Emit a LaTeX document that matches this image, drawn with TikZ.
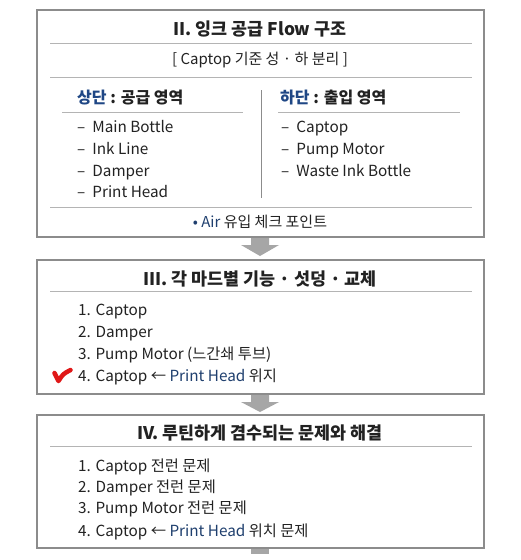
\documentclass[tikz,border=0pt]{standalone}
\usepackage{fontspec}
\setmainfont{Noto Sans CJK KR}
\definecolor{boxline}{HTML}{8C8C8C}
\definecolor{rule}{HTML}{B4B4B4}
\definecolor{txt}{HTML}{222222}
\definecolor{hdblue}{HTML}{1F4785}
\definecolor{navy}{HTML}{1F3F6E}
\definecolor{arrowgray}{HTML}{A6A6A6}
\definecolor{checkred}{HTML}{E01818}
\tikzset{
  panel/.style={draw=boxline, line width=1.1pt, fill=white},
  sep/.style={draw=rule, line width=0.9pt},
  title/.style={font=\fontsize{17.4}{20}\selectfont\bfseries, text=txt, inner sep=0pt, anchor=base},
  item/.style={font=\fontsize{15.3}{18}\selectfont, text=txt, anchor=base west, inner sep=0pt},
  sub/.style={font=\fontsize{15}{18}\selectfont, text=txt, inner sep=0pt, anchor=base},
  head/.style={font=\fontsize{16}{18}\selectfont\bfseries, text=txt, anchor=base west, inner sep=0pt},
  flowarrow/.style={fill=arrowgray, draw=none},
}
\newcommand{\dashitem}[1]{–\hspace{7pt}#1}
\begin{document}
\begin{tikzpicture}[x=1pt,y=-1pt]
\useasboundingbox (0,0) rectangle (520,560);
\fill[white] (0,0) rectangle (520,560);

% ---------- Box II ----------
\draw[panel] (37,10) rectangle (484,237);
\node[title] (t2) at (260,35) {II. 잉크 공급 Flow 구조};
\draw[sep] (50,43) -- (472,43);
\node[sub] (s2) at (260,64) {[ Captop 기준 성 · 하 분리 ]};
\draw[sep] (50,77) -- (472,77);
\node[head] (up) at (77,103) {\textcolor{hdblue}{상단} : 공급 영역};
\node[head] (down) at (280,103) {\textcolor{hdblue}{하단} : 출입 영역};
\draw[sep] (62,112) -- (243,112);
\draw[sep] (278,112) -- (460,112);
\draw[draw=boxline, line width=0.8pt] (261,90) -- (261,198);
\node[item] (l1) at (77,132) {\dashitem{Main Bottle}};
\node[item] (l2) at (77,154) {\dashitem{Ink Line}};
\node[item] (l3) at (77,176) {\dashitem{Damper}};
\node[item] (l4) at (77,197.5) {\dashitem{Print Head}};
\node[item] (r1) at (281,132) {\dashitem{Captop}};
\node[item] (r2) at (281,154) {\dashitem{Pump Motor}};
\node[item] (r3) at (281,176) {\dashitem{Waste Ink Bottle}};
\draw[sep] (50,207) -- (472,207);
\node[sub] (air) at (260,227) {\textcolor{navy}{\textbullet\ Air} 유입 체크 포인트};

% ---------- arrow 1 ----------
\fill[flowarrow] (251,238) -- (269,238) -- (269,245) -- (279,245) -- (260,256) -- (241,245) -- (251,245) -- cycle;

% ---------- Box III ----------
\draw[panel] (37,260) rectangle (484,394);
\node[title] (t3) at (260,285) {III. 각 마드별 기능 · 섯덩 · 교체};
\draw[sep] (50,291) -- (472,291);
\node[item] (a1) at (78,315) {1. Captop};
\node[item] (a2) at (78,337) {2. Damper};
\node[item] (a3) at (78,359) {3. Pump Motor (느간쇄 투브)};
\node[item] (a4) at (78,381.5) {4. Captop ← \textcolor{navy}{Print Head} 위지};
\draw[checkred, line width=4.5pt, line cap=round, line join=round]
  (54.5,373) -- (58.5,381) .. controls (63,374) .. (70.5,370);

% ---------- arrow 2 ----------
\fill[flowarrow] (251,395) -- (269,395) -- (269,402) -- (279,402) -- (260,412) -- (241,402) -- (251,402) -- cycle;

% ---------- Box IV ----------
\draw[panel] (37,415) rectangle (484,548);
\node[title] (t4) at (260,439) {IV. 루틴하게 겸수되는 문제와 해결};
\draw[sep] (50,446) -- (472,446);
\node[item] (b1) at (78,471) {1. Captop 전런 문제};
\node[item] (b2) at (78,492.5) {2. Damper 전런 문제};
\node[item] (b3) at (78,513.5) {3. Pump Motor 전런 문제};
\node[item] (b4) at (78,536) {4. Captop ← \textcolor{navy}{Print Head} 위치 문제};

% ---------- bottom stub ----------
\fill[flowarrow] (251,549) rectangle (269,554);
\end{tikzpicture}
\end{document}
